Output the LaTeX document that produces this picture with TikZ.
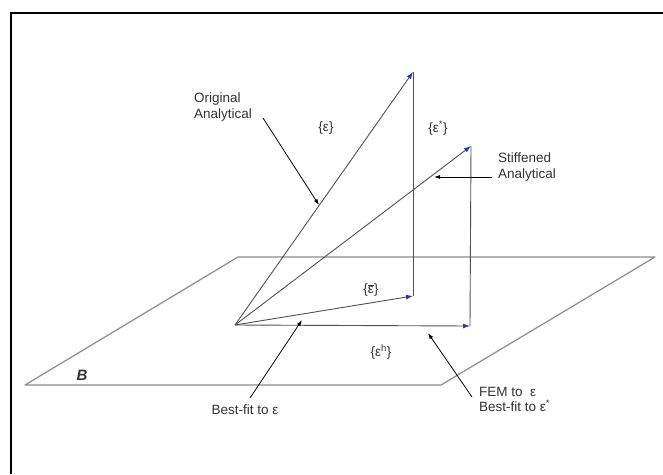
\documentclass[tikz,border=0pt]{standalone}
\usepackage{fontspec}
\setmainfont{Liberation Sans}
\usepackage{tikz}
\usetikzlibrary{arrows.meta, positioning, calc}
\definecolor{vecgray}{RGB}{80,80,80}
\definecolor{planegray}{RGB}{140,140,140}
\definecolor{tipblue}{RGB}{40,60,160}
\definecolor{textgray}{RGB}{50,50,50}

\begin{document}
\begin{tikzpicture}[
        x=1pt, y=-1pt,
        vec/.style={draw=vecgray, line width=0.9pt, -{Latex[length=7pt, width=5pt, color=tipblue]}},
        drop/.style={draw=vecgray, line width=0.9pt},
        plane/.style={draw=planegray, line width=1.2pt, line join=round},
        leader/.style={draw=black, line width=0.8pt, -{Latex[length=6pt, width=4pt]}},
        lbl/.style={font=\fontsize{13.5}{15.5}\selectfont, text=textgray, inner sep=0pt, align=left}
    ]
        \useasboundingbox (0,0) rectangle (663,474);

        % Frame
        \draw[black, line width=1.6pt] (11,474) -- (11,13) -- (663,13);

        % Plane B
        \coordinate (p1) at (25,385);
        \coordinate (p2) at (238,257);
        \coordinate (p3) at (655,257);
        \coordinate (p4) at (441,385);
        \draw[plane] (p1) -- (p2) -- (p3) -- (p4) -- cycle;
        \node[font=\fontsize{15}{17}\selectfont\bfseries\itshape, text=textgray] (B) at (82,375) {B};

        % Vectors
        \coordinate (O) at (235,325);
        \coordinate (eps) at (413,72);
        \coordinate (epsstar) at (471,146);
        \coordinate (epsbar) at (413,296);
        \coordinate (epsh) at (470,326);
        \draw[drop] (eps) -- (epsbar);
        \draw[drop] (epsstar) -- (epsh);
        \draw[vec] (O) -- (eps);
        \draw[vec] (O) -- (epsstar);
        \draw[vec] (O) -- (epsbar);
        \draw[vec] (O) -- (epsh);

        % Vector labels
        \node[lbl] (leps) at (326,128) {\{ε\}};
        \node[lbl] (lepsstar) at (438,128) {\{ε\textsuperscript{*}\}};
        \node[lbl] (lepsbar) at (371,290) {\{$\overline{\hbox{ε}}$\}};
        \node[lbl] (lepsh) at (381,352) {\{ε\textsuperscript{h}\}};

        % Callouts
        \node[lbl, anchor=north west] (orig) at (194,93) {Original\\Analytical};
        \node[lbl, anchor=north west] (stiff) at (498,153) {Stiffened\\Analytical};
        \node[lbl] (bestfit) at (245,410) {Best-fit to ε};
        \node[lbl, anchor=north west] (fem) at (479,387) {FEM to \ ε\\Best-fit to ε\textsuperscript{*}};

        \coordinate (origend) at (263,118);
        \coordinate (origtip) at (319,205);
        \coordinate (stiffend) at (492,177);
        \coordinate (stifftip) at (434,177);
        \coordinate (bestend) at (250,398);
        \coordinate (besttip) at (302,320);
        \coordinate (femend) at (472,397);
        \coordinate (femtip) at (428,333);
        \draw[leader] (origend) -- (origtip);
        \draw[leader] (stiffend) -- (stifftip);
        \draw[leader] (bestend) -- (besttip);
        \draw[leader] (femend) -- (femtip);
    \end{tikzpicture}
\end{document}
